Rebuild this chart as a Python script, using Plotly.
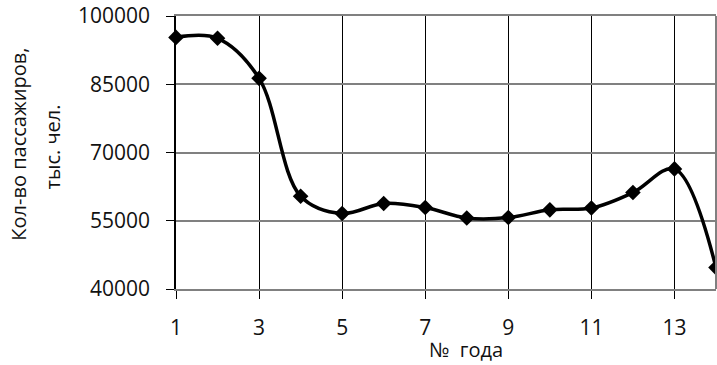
import plotly.graph_objects as go

years = list(range(1, 15))
passengers = [95300, 95100, 86300, 60400, 56600, 58800, 57900,
              55600, 55700, 57400, 57800, 61200, 66400, 44700]

y_ticks = [40000, 55000, 70000, 85000, 100000]
x_ticks = [1, 3, 5, 7, 9, 11, 13]

x_title = "№\u00a0\u00a0года"
y_title_lines = ["Кол-во пассажиров,", "тыс. чел."]

font_family = "Open Sans, sans-serif"

fig = go.Figure()
fig.add_trace(go.Scatter(
    x=years, y=passengers,
    mode="lines+markers",
    line=dict(color="black", width=3.5, shape="spline", smoothing=1.0),
    marker=dict(symbol="diamond", size=12, color="black"),
    cliponaxis=False,
    showlegend=False,
))

annotations = [
    dict(text=x_title, xref="paper", yref="paper", x=0.037 + 0.5, y=-0.222,
         xanchor="center", yanchor="middle", showarrow=False,
         font=dict(size=20, color="#111")),
    dict(text=y_title_lines[0], xref="paper", yref="paper", x=-0.292, y=0.53,
         xanchor="center", yanchor="middle", textangle=-90, showarrow=False,
         font=dict(size=20, color="#111")),
    dict(text=y_title_lines[1], xref="paper", yref="paper", x=-0.229, y=0.52,
         xanchor="center", yanchor="middle", textangle=-90, showarrow=False,
         font=dict(size=20, color="#111")),
]

fig.update_layout(
    width=717, height=365,
    margin=dict(l=176, r=1, t=16, b=76),
    paper_bgcolor="white", plot_bgcolor="white",
    font=dict(family=font_family, color="#111", size=21),
    xaxis=dict(
        range=[1, 14], tickvals=x_ticks, ticktext=[str(v) for v in x_ticks],
        showgrid=True, gridcolor="black", gridwidth=1,
        showline=True, linecolor="#808080", linewidth=2, mirror=True,
        ticks="outside", ticklen=8, tickcolor="black", tickwidth=1,
        ticklabelstandoff=11,
        zeroline=False, tickfont=dict(size=21),
    ),
    yaxis=dict(
        range=[40000, 100000], tickvals=y_ticks, ticktext=[str(v) for v in y_ticks],
        showgrid=True, gridcolor="#808080", gridwidth=2,
        showline=True, linecolor="black", linewidth=1.5,
        ticks="outside", ticklen=8, tickcolor="black", tickwidth=1,
        ticklabelstandoff=12,
        zeroline=False, tickfont=dict(size=21),
    ),
    annotations=annotations,
    shapes=[dict(type="line", xref="paper", yref="paper", x0=1, x1=1, y0=0, y1=1,
                 line=dict(color="#808080", width=2))],
)

fig.write_html("out.html")
